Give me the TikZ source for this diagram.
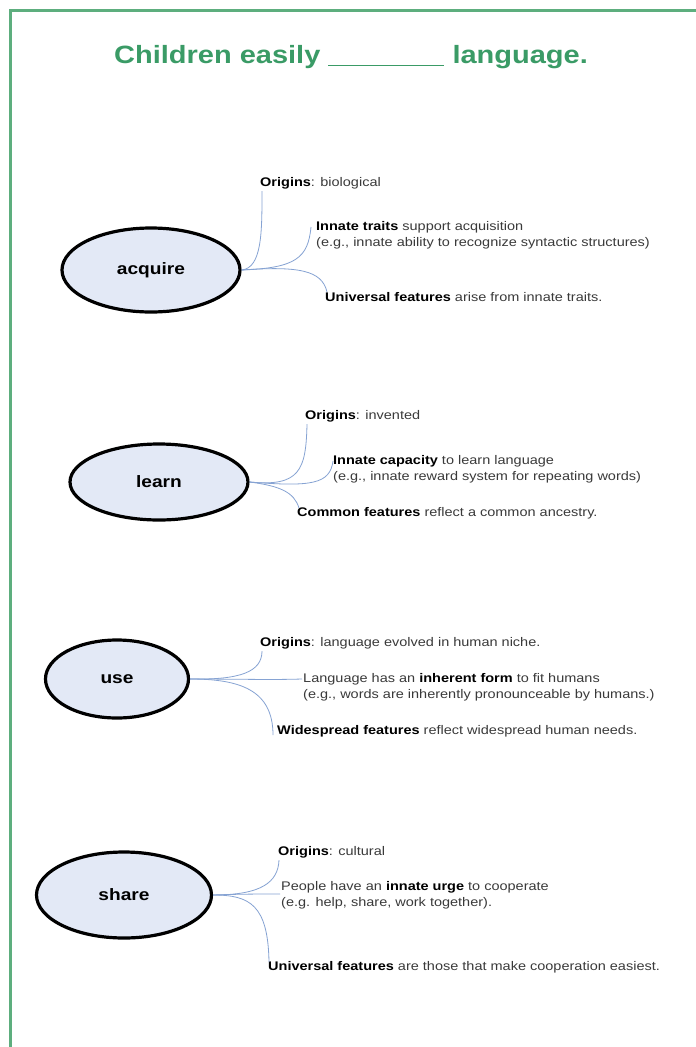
\documentclass[tikz,border=0pt]{standalone}
\usepackage{fontspec}
\setmainfont{Liberation Sans}[FakeStretch=1.16]
\usetikzlibrary{shapes.geometric}
\definecolor{frame}{HTML}{5DAE7E}
\definecolor{titlegreen}{HTML}{3A9B66}
\definecolor{ellfill}{HTML}{E3E9F6}
\definecolor{link}{HTML}{86A3D3}
\definecolor{txt}{HTML}{3A3A3A}
\tikzset{
  concept/.style={ellipse, draw=black, line width=3.2pt, fill=ellfill, inner sep=0pt, font=\bfseries\fontsize{16.5}{18}\selectfont},
  note/.style={anchor=west, inner sep=0pt, align=left, text=txt, font=\fontsize{12.5}{16}\selectfont},
  branch/.style={draw=link, line width=0.8pt},
}
\newcommand{\bb}[1]{\textbf{\color{black}#1}}
\begin{document}
\begin{tikzpicture}[x=1pt,y=-1pt]
\useasboundingbox (0,0) rectangle (696,1047);
\fill[white] (0,0) rectangle (696,1047);
\draw[frame, line width=3pt] (10,1047) -- (10,10) -- (696,10);
\node[text=titlegreen, font=\bfseries\fontsize{25}{28}\selectfont] (title) at (351,57) {Children easily \underline{\hspace{116pt}} language.};

% acquire
\node[concept, minimum width=178pt, minimum height=84pt] (acq) at (151,270) {acquire};
\node[note] (a1) at (260,183) {\bb{Origins}: biological};
\node[note] (a2) at (316,235) {\bb{Innate traits} support acquisition\\(e.g., innate ability to recognize syntactic structures)};
\node[note] (a3) at (325,297) {\bb{Universal features} arise from innate traits.};
\draw[branch] (acq.east) .. controls (262,268) and (262,232) .. ([xshift=2pt,yshift=-2pt]a1.south west);
\draw[branch] (acq.east) .. controls (296,268) and (308,258) .. ([xshift=-5pt,yshift=8pt]a2.west);
\draw[branch] (acq.east) .. controls (298,266) and (322,270) .. ([xshift=2pt,yshift=5pt]a3.west);

% learn
\node[concept, minimum width=178pt, minimum height=76pt] (lea) at (159,482) {learn};
\node[note] (b1) at (305,416) {\bb{Origins}: invented};
\node[note] (b2) at (333,469) {\bb{Innate capacity} to learn language\\(e.g., innate reward system for repeating words)};
\node[note] (b3) at (297,513) {\bb{Common features} reflect a common ancestry.};
\draw[branch] (lea.east) .. controls (300,487) and (306,470) .. ([xshift=2pt,yshift=-2pt]b1.south west);
\draw[branch] (lea.east) .. controls (312,487) and (330,484) .. ([xshift=0pt,yshift=8pt]b2.west);
\draw[branch] (lea.east) .. controls (280,486) and (294,492) .. ([xshift=2pt,yshift=5pt]b3.west);

% use
\node[concept, minimum width=143pt, minimum height=78pt] (use) at (117,679) {use};
\node[note] (c1) at (260,643) {\bb{Origins}: language evolved in human niche.};
\node[note] (c2) at (303,687) {Language has an \bb{inherent form} to fit humans\\(e.g., words are inherently pronounceable by humans.)};
\node[note] (c3) at (277,731) {\bb{Widespread features} reflect widespread human needs.};
\draw[branch] (use.east) .. controls (240,680) and (262,672) .. ([xshift=2pt,yshift=-2pt]c1.south west);
\draw[branch] (use.east) .. controls (240,679) and (270,680) .. ([xshift=-1pt,yshift=8pt]c2.west);
\draw[branch] (use.east) .. controls (240,679) and (273,690) .. ([xshift=-4pt,yshift=-4pt]c3.west);

% share
\node[concept, minimum width=175pt, minimum height=86pt] (sha) at (124,895) {share};
\node[note] (d1) at (278,852) {\bb{Origins}: cultural};
\node[note] (d2) at (281,895) {People have an \bb{innate urge} to cooperate\\(e.g. help, share, work together).};
\node[note] (d3) at (268,967) {\bb{Universal features} are those that make cooperation easiest.};
\draw[branch] (sha.east) .. controls (262,895) and (278,882) .. ([xshift=1pt,yshift=-2pt]d1.south west);
\draw[branch] (sha.east) .. controls (240,894) and (260,894) .. ([xshift=-1pt,yshift=1pt]d2.west);
\draw[branch] (sha.east) .. controls (250,895) and (268,905) .. ([xshift=1pt,yshift=5pt]d3.west);
\end{tikzpicture}
\end{document}
